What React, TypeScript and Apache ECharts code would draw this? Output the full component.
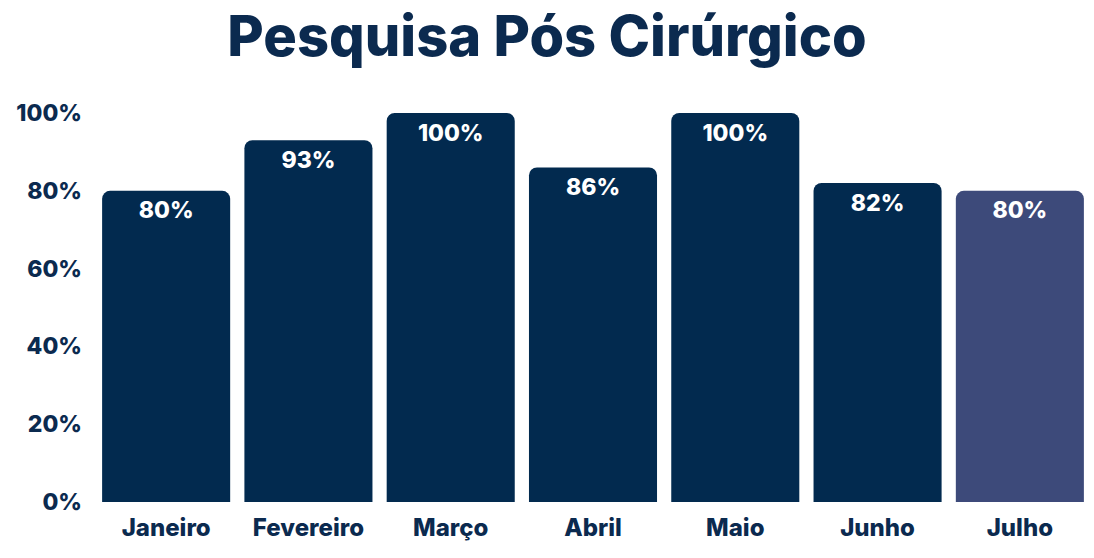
import React, { useEffect, useRef } from "react";
import * as echarts from "echarts";

const titleText = "Pesquisa Pós Cirúrgico";
const categories = ["Janeiro", "Fevereiro", "Março", "Abril", "Maio", "Junho", "Julho"];
const values = [80, 93, 100, 86, 100, 82, 80];
const barColors = ["#022a4f", "#022a4f", "#022a4f", "#022a4f", "#022a4f", "#022a4f", "#3d4a7a"];

const FONT = "Inter, 'Noto Sans', sans-serif";
const NAVY = "#0b2a4f";

export default function App() {
  const ref = useRef<HTMLDivElement>(null);
  useEffect(() => {
    document.body.style.margin = "0";
    const chart = echarts.init(ref.current!, null, { renderer: "svg" });
    chart.setOption({
      animation: false,
      backgroundColor: "#ffffff",
      title: {
        text: titleText,
        left: "center",
        top: 0,
        textStyle: { fontFamily: FONT, fontWeight: 800, fontSize: 56, lineHeight: 62, color: NAVY, letterSpacing: 1 },
      },
      grid: { left: 95, right: 3, top: 113, bottom: 56, containLabel: false },
      xAxis: {
        type: "category",
        data: categories,
        axisLine: { show: false },
        axisTick: { show: false },
        axisLabel: {
          interval: 0,
          hideOverlap: false,
          fontFamily: FONT,
          fontWeight: 800,
          fontSize: 24,
          color: NAVY,
          margin: 13,
          letterSpacing: 0.6,
        },
      },
      yAxis: {
        type: "value",
        min: 0,
        max: 100,
        interval: 20,
        splitLine: { show: false },
        axisLine: { show: false },
        axisTick: { show: false },
        axisLabel: {
          formatter: "{value}%",
          fontFamily: FONT,
          fontWeight: 800,
          fontSize: 23,
          color: NAVY,
          margin: 13,
        },
      },
      series: [
        {
          type: "bar",
          data: values.map((v, i) => ({ value: v, itemStyle: { color: barColors[i] } })),
          barCategoryGap: "10%",
          itemStyle: { borderRadius: [8, 8, 0, 0] },
          label: {
            show: true,
            position: "insideTop",
            distance: 8,
            formatter: "{c}%",
            fontFamily: FONT,
            fontWeight: 800,
            fontSize: 23,
            color: "#ffffff",
          },
        },
      ],
    });
    return () => chart.dispose();
  }, []);
  return <div ref={ref} style={{ width: 1094, height: 558 }} />;
}
